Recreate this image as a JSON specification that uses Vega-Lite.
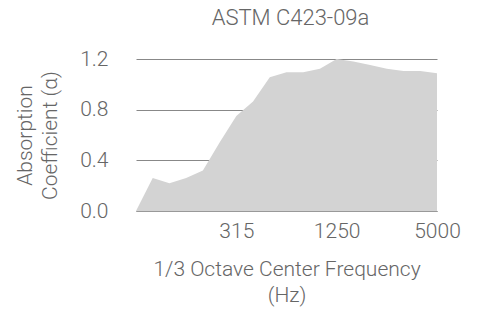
{
  "$schema": "https://vega.github.io/schema/vega-lite/v6.json",
  "autosize": {"type": "none"},
  "width": 301,
  "height": 152,
  "padding": {"left": 136, "top": 59, "right": 43, "bottom": 100},
  "background": "white",
  "config": {
    "view": {"stroke": null},
    "font": "Roboto",
    "axis": {"labelFont": "Roboto", "titleFont": "Roboto", "labelFontWeight": 300, "titleFontWeight": 300, "labelColor": "#666", "titleColor": "#666", "labelFontSize": 21, "titleFontSize": 21}
  },
  "title": {"text": "ASTM C423-09a", "fontSize": 22, "fontWeight": 300, "color": "#666", "font": "Roboto", "anchor": "middle", "dx": 4, "offset": 18},
  "data": {"values": [
    {"freq": 80, "alpha": 0.0},
    {"freq": 100, "alpha": 0.26},
    {"freq": 125, "alpha": 0.22},
    {"freq": 160, "alpha": 0.26},
    {"freq": 200, "alpha": 0.32},
    {"freq": 250, "alpha": 0.54},
    {"freq": 315, "alpha": 0.75},
    {"freq": 400, "alpha": 0.865},
    {"freq": 500, "alpha": 1.055},
    {"freq": 630, "alpha": 1.095},
    {"freq": 800, "alpha": 1.095},
    {"freq": 1000, "alpha": 1.124},
    {"freq": 1250, "alpha": 1.2},
    {"freq": 1600, "alpha": 1.18},
    {"freq": 2000, "alpha": 1.153},
    {"freq": 2500, "alpha": 1.124},
    {"freq": 3150, "alpha": 1.106},
    {"freq": 4000, "alpha": 1.106},
    {"freq": 5000, "alpha": 1.087}
  ]},
  "mark": {"type": "area", "color": "#d3d3d3", "clip": false},
  "encoding": {
    "x": {
      "field": "freq", "type": "ordinal", "sort": "ascending",
      "scale": {"type": "point", "padding": 0},
      "axis": {
        "values": [315, 1250, 5000], "labelAngle": 0, "ticks": false,
        "domain": true, "domainColor": "#999", "domainWidth": 1,
        "labelPadding": 9, "title": ["1/3 Octave Center Frequency", "(Hz)"],
        "titleLineHeight": 26, "titlePadding": 17, "grid": false
      }
    },
    "y": {
      "field": "alpha", "type": "quantitative",
      "scale": {"domain": [0, 1.2]},
      "axis": {
        "values": [0, 0.4, 0.8, 1.2], "format": ".1f", "ticks": false, "domain": false,
        "grid": true, "gridColor": "#888", "gridWidth": 1, "labelPadding": 28,
        "title": ["Absorption", "Coefficient (α)"], "titlePadding": 19, "titleLineHeight": 25
      }
    }
  }
}
